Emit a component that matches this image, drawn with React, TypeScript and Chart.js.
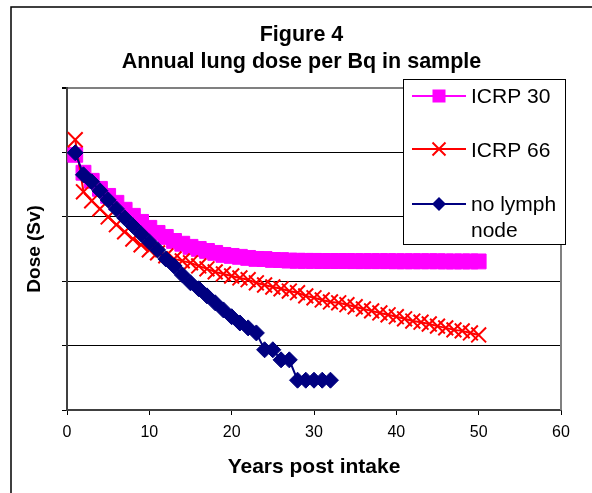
import React, { useEffect, useRef } from 'react';
import { Chart, registerables } from 'chart.js';

Chart.register(...registerables);

const FONT = "Arial, 'Liberation Sans', sans-serif";

const titleLines = ['Figure 4', 'Annual lung dose per Bq in sample'];
const xAxisTitle = 'Years post intake';
const yAxisTitle = 'Dose (Sv)';
const xTicks = [0, 10, 20, 30, 40, 50, 60];
const yDecades = [1e-10, 1e-9, 1e-8, 1e-7, 1e-6, 1e-5];

const yearsLong = [
  1, 2, 3, 4, 5, 6, 7, 8, 9, 10, 11, 12, 13, 14, 15, 16, 17, 18, 19, 20, 21, 22, 23, 24, 25,
  26, 27, 28, 29, 30, 31, 32, 33, 34, 35, 36, 37, 38, 39, 40, 41, 42, 43, 44, 45, 46, 47, 48, 49, 50,
];
const yearsShort = [
  1, 2, 3, 4, 5, 6, 7, 8, 9, 10, 11, 12, 13, 14, 15, 16, 17, 18, 19, 20, 21, 22, 23, 24, 25,
  26, 27, 28, 29, 30, 31, 32,
];

const icrp30 = [
  9.1e-7, 4.8e-7, 3.6e-7, 2.7e-7, 2.1e-7, 1.64e-7, 1.28e-7, 1.03e-7, 8.3e-8, 6.7e-8,
  5.6e-8, 4.85e-8, 4.2e-8, 3.8e-8, 3.4e-8, 3.16e-8, 2.94e-8, 2.74e-8, 2.55e-8, 2.46e-8,
  2.38e-8, 2.29e-8, 2.21e-8, 2.2e-8, 2.13e-8, 2.12e-8, 2.08e-8, 2.07e-8, 2.06e-8, 2.06e-8,
  2.05e-8, 2.05e-8, 2.05e-8, 2.05e-8, 2.04e-8, 2.04e-8, 2.04e-8, 2.04e-8, 2.04e-8, 2.03e-8,
  2.03e-8, 2.03e-8, 2.03e-8, 2.03e-8, 2.03e-8, 2.02e-8, 2.02e-8, 2.02e-8, 2.02e-8, 2.02e-8,
];

const icrp66 = [
  1.56e-6, 2.43e-7, 1.76e-7, 1.32e-7, 9.9e-8, 7.5e-8, 5.8e-8, 4.5e-8, 3.65e-8, 3.05e-8,
  2.74e-8, 2.46e-8, 2.21e-8, 2.06e-8, 1.92e-8, 1.72e-8, 1.55e-8, 1.39e-8, 1.29e-8, 1.2e-8,
  1.12e-8, 1.05e-8, 9.4e-9, 8.7e-9, 8.1e-9, 7.6e-9, 7.0e-9, 6.6e-9, 5.9e-9, 5.5e-9,
  5.1e-9, 4.75e-9, 4.6e-9, 4.3e-9, 4.0e-9, 3.7e-9, 3.45e-9, 3.2e-9, 3.0e-9, 2.8e-9,
  2.6e-9, 2.4e-9, 2.3e-9, 2.16e-9, 2.0e-9, 1.88e-9, 1.75e-9, 1.69e-9, 1.57e-9, 1.46e-9,
];

const noLymph = [
  9.8e-7, 4.46e-7, 3.47e-7, 2.52e-7, 1.82e-7, 1.32e-7, 9.6e-8, 7.2e-8, 5.4e-8, 4.06e-8,
  3.05e-8, 2.21e-8, 1.72e-8, 1.25e-8, 9.4e-9, 7.6e-9, 5.9e-9, 4.6e-9, 3.57e-9, 2.8e-9,
  2.24e-9, 1.88e-9, 1.57e-9, 8.6e-10, 8.6e-10, 6.0e-10, 6.0e-10, 2.9e-10, 2.9e-10, 2.9e-10,
  2.9e-10, 2.9e-10,
];

const seriesNames = ['ICRP 30', 'ICRP 66', 'no lymph node'];
const legendLines = [['ICRP 30'], ['ICRP 66'], ['no lymph', 'node']];
const colors = ['#FF00FF', '#FF0000', '#000080'];

const toPoints = (xs: number[], ys: number[]) => ys.map((y, i) => ({ x: xs[i], y }));

const framePlugin = {
  id: 'framePlugin',
  beforeDraw(chart: any) {
    const ctx = chart.ctx;
    ctx.save();
    ctx.fillStyle = '#ffffff';
    ctx.fillRect(0, 0, chart.width, chart.height);
    ctx.restore();
  },
  afterDraw(chart: any) {
    const ctx = chart.ctx;
    const a = chart.chartArea;
    ctx.save();
    ctx.strokeStyle = '#000000';
    ctx.lineWidth = 1.5;
    ctx.beginPath();
    ctx.moveTo(11, chart.height);
    ctx.lineTo(11, 7);
    ctx.lineTo(chart.width, 7);
    ctx.stroke();
    ctx.strokeStyle = '#808080';
    ctx.lineWidth = 2;
    ctx.beginPath();
    ctx.moveTo(a.right, a.top);
    ctx.lineTo(a.right, a.bottom);
    ctx.stroke();

    const bx = 403.5, by = 79.5, bw = 162, bh = 165;
    ctx.fillStyle = '#ffffff';
    ctx.fillRect(bx, by, bw, bh);
    ctx.strokeStyle = '#000000';
    ctx.lineWidth = 1;
    ctx.strokeRect(bx, by, bw, bh);

    const lineY = [96, 149, 204];
    const baselines = [[103], [156.5], [211, 237]];
    const lx1 = 412, lx2 = 466, mx = 439;
    for (let i = 0; i < 3; i++) {
      const y = lineY[i];
      ctx.strokeStyle = colors[i];
      ctx.lineWidth = 2;
      ctx.beginPath();
      ctx.moveTo(lx1, y);
      ctx.lineTo(lx2, y);
      ctx.stroke();
      if (i === 0) {
        ctx.fillStyle = colors[i];
        ctx.fillRect(mx - 6.5, y - 6.5, 13, 13);
      } else if (i === 1) {
        ctx.lineWidth = 2;
        ctx.beginPath();
        ctx.moveTo(mx - 6.5, y - 6.5);
        ctx.lineTo(mx + 6.5, y + 6.5);
        ctx.moveTo(mx - 6.5, y + 6.5);
        ctx.lineTo(mx + 6.5, y - 6.5);
        ctx.stroke();
      } else {
        ctx.fillStyle = colors[i];
        ctx.beginPath();
        ctx.moveTo(mx, y - 7);
        ctx.lineTo(mx + 7, y);
        ctx.lineTo(mx, y + 7);
        ctx.lineTo(mx - 7, y);
        ctx.closePath();
        ctx.fill();
      }
      ctx.fillStyle = '#000000';
      ctx.font = `21px ${FONT}`;
      ctx.textBaseline = 'alphabetic';
      ctx.textAlign = 'left';
      legendLines[i].forEach((t, k) => ctx.fillText(t, 471, baselines[i][k]));
    }
    ctx.restore();
  },
};

export default function App() {
  const ref = useRef<HTMLCanvasElement | null>(null);

  useEffect(() => {
    if (!ref.current) return;
    const chart = new Chart(ref.current, {
      type: 'line',
      data: {
        datasets: [
          {
            label: seriesNames[0],
            data: toPoints(yearsLong, icrp30),
            borderColor: colors[0],
            backgroundColor: colors[0],
            borderWidth: 2,
            pointStyle: 'rect',
            pointRadius: 10.5,
            pointBorderWidth: 1,
            pointBackgroundColor: colors[0],
            pointBorderColor: colors[0],
            order: 3,
          },
          {
            label: seriesNames[1],
            data: toPoints(yearsLong, icrp66),
            borderColor: colors[1],
            backgroundColor: colors[1],
            borderWidth: 2,
            pointStyle: 'crossRot',
            pointRadius: 10.5,
            pointBorderWidth: 2,
            pointBorderColor: colors[1],
            order: 2,
          },
          {
            label: seriesNames[2],
            data: toPoints(yearsShort, noLymph),
            borderColor: colors[2],
            backgroundColor: colors[2],
            borderWidth: 2,
            pointStyle: 'rectRot',
            pointRadius: 8,
            pointBorderWidth: 1,
            pointBackgroundColor: colors[2],
            pointBorderColor: colors[2],
            order: 1,
          },
        ],
      },
      options: {
        responsive: false,
        animation: false,
        devicePixelRatio: 1,
        layout: { padding: { left: 11, right: 0, top: 0, bottom: 0 } },
        plugins: {
          legend: { display: false },
          tooltip: { enabled: false },
          title: {
            display: true,
            text: titleLines,
            color: '#000000',
            font: { family: FONT, size: 21.5, weight: 'bold', lineHeight: 1.25 },
            padding: { top: 22, bottom: 12 },
          },
        },
        scales: {
          x: {
            type: 'linear',
            min: 0,
            max: 60,
            afterBuildTicks: (scale: any) => {
              scale.ticks = xTicks.map((v) => ({ value: v }));
            },
            afterFit: (scale: any) => {
              scale.height = 83;
            },
            ticks: {
              color: '#000000',
              font: { family: FONT, size: 16 },
              padding: 8,
              maxRotation: 0,
            },
            grid: {
              drawOnChartArea: false,
              drawTicks: true,
              tickLength: 5,
              tickColor: '#000000',
            },
            border: { color: '#404040', width: 2 },
            title: {
              display: true,
              text: xAxisTitle,
              color: '#000000',
              font: { family: FONT, size: 21, weight: 'bold' },
              padding: { top: 0, bottom: 13 },
            },
          },
          y: {
            type: 'logarithmic',
            min: 1e-10,
            max: 1e-5,
            afterBuildTicks: (scale: any) => {
              scale.ticks = yDecades.map((v) => ({ value: v }));
            },
            afterFit: (scale: any) => {
              scale.width = 56;
            },
            ticks: { display: false },
            grid: {
              drawTicks: true,
              tickLength: 5,
              color: (c: any) => (c.index === yDecades.length - 1 ? '#808080' : '#000000'),
              lineWidth: (c: any) => (c.index === yDecades.length - 1 ? 2 : 1),
              tickColor: '#000000',
            },
            border: { color: '#404040', width: 2 },
            title: {
              display: true,
              text: yAxisTitle,
              color: '#000000',
              font: { family: FONT, size: 19, weight: 'bold' },
              padding: { top: 12, bottom: 0 },
            },
          },
          yRight: {
            type: 'linear',
            position: 'right',
            display: true,
            afterFit: (scale: any) => {
              scale.width = 31;
            },
            ticks: { display: false },
            grid: { display: false, drawTicks: false },
            border: { display: false },
          },
        },
      },
      plugins: [framePlugin],
    });
    return () => chart.destroy();
  }, []);

  return (
    <div style={{ position: 'fixed', left: 0, top: 0, width: 592, height: 493, overflow: 'hidden', background: '#fff' }}>
      <canvas ref={ref} width={592} height={493} style={{ display: 'block', width: 592, height: 493 }} />
    </div>
  );
}
